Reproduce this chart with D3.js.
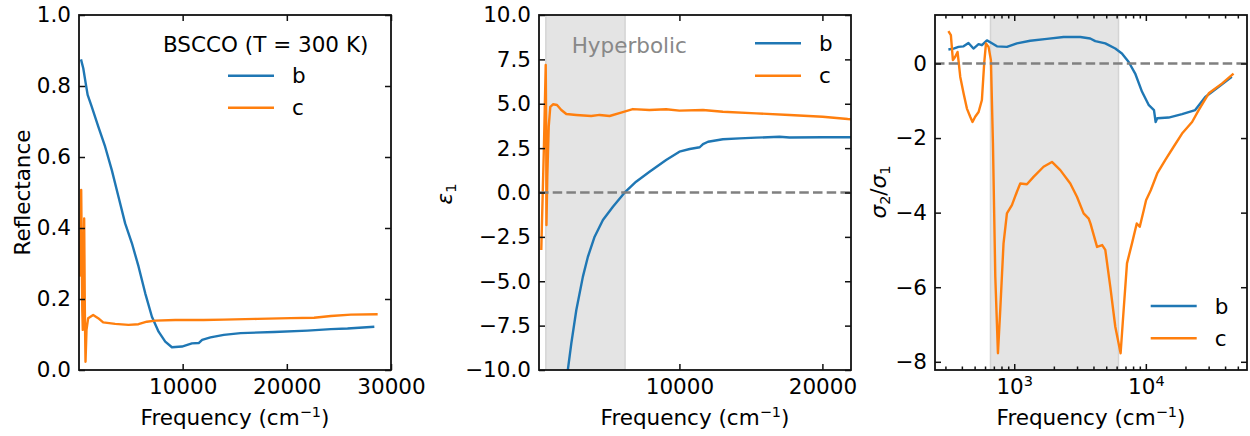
<!DOCTYPE html>
<html lang="en">
<head>
<meta charset="utf-8">
<script src="https://d3js.org/d3.v7.min.js"></script>
<style>
  body { margin: 0; background: #fff; }
  svg text { font-family: "DejaVu Sans", sans-serif; }
</style>
</head>
<body>
<div id="chart"></div>
<script>
// panel 1: reflectance, [frequency cm-1, R]
var reflB = [[240,0.875],[460,0.85],[690,0.808],[880,0.775],[1270,0.742],[1910,0.685],[2560,0.629],[3200,0.563],
  [3840,0.488],[4480,0.413],[5130,0.357],[5770,0.291],[6410,0.216],[7050,0.150],[7690,0.108],[8330,0.080],
  [8970,0.064],[9930,0.066],[10890,0.075],[11540,0.076],[11870,0.085],[12670,0.092],[13950,0.099],[15560,0.104],
  [18770,0.107],[21980,0.111],[24230,0.115],[25830,0.117],[28400,0.122]];
var reflC = [[125,0.263],[260,0.507],[365,0.169],[415,0.113],[545,0.427],[610,0.169],[675,0.023],[770,0.113],
  [930,0.146],[1410,0.155],[1890,0.146],[2370,0.134],[3520,0.130],[4800,0.127],[5760,0.129],[6560,0.136],
  [7360,0.139],[9290,0.141],[12010,0.141],[13950,0.142],[17160,0.144],[20370,0.146],[22620,0.147],[24230,0.152],
  [26150,0.156],[28720,0.157]];

// panel 2: eps1
var epsB = [[2180,-10.1],[2440,-8.5],[2790,-6.62],[3250,-4.74],[3600,-3.62],[4070,-2.49],[4650,-1.55],[5350,-0.80],
  [6160,-0.01],[6970,0.61],[7910,1.17],[9070,1.83],[10000,2.30],[10720,2.45],[11420,2.55],[11650,2.73],[12000,2.86],
  [13040,3.0],[14210,3.05],[15370,3.09],[17000,3.14],[17700,3.10],[20020,3.11],[21770,3.11],[22000,3.11]];
var epsC = [[340,-3.24],[410,-0.99],[530,2.77],[650,7.18],[690,2.77],[700,-1.83],[760,0.89],[860,3.71],[970,4.83],
  [1160,4.97],[1440,4.93],[1740,4.65],[2090,4.42],[2790,4.37],[3830,4.31],[4420,4.37],[5120,4.31],[5920,4.50],
  [6740,4.70],[7900,4.65],[9070,4.69],[10000,4.61],[11650,4.65],[13040,4.55],[15370,4.46],[17700,4.37],
  [20020,4.27],[21770,4.14],[22000,4.13]];

// panel 3: sigma2/sigma1 (log frequency)
var sigB = [[316,0.375],[346,0.40],[377,0.445],[412,0.46],[449,0.55],[490,0.40],[536,0.52],[568,0.49],[620,0.62],
  [677,0.54],[739,0.46],[880,0.445],[1048,0.54],[1323,0.61],[1771,0.66],[2370,0.71],[3176,0.71],[3780,0.67],
  [4130,0.60],[4920,0.54],[5860,0.40],[6580,0.27],[7410,0.04],[8300,-0.27],[9360,-0.76],[10540,-1.12],
  [11530,-1.25],[11870,-1.57],[12210,-1.47],[14900,-1.45],[18840,-1.36],[23710,-1.25],[28290,-0.90],
  [35600,-0.63],[45000,-0.36]];
var sigC = [[316,0.87],[330,0.76],[342,0.09],[356,0.18],[371,0.31],[389,-0.36],[412,-0.80],[437,-1.21],[463,-1.43],
  [482,-1.57],[505,-1.43],[536,-1.30],[568,-0.98],[591,0.0],[610,0.54],[638,0.445],[665,0.09],[689,-2.14],
  [718,-5.72],[752,-7.77],[783,-6.61],[829,-4.83],[880,-4.02],[960,-3.80],[1048,-3.44],[1111,-3.22],[1249,-3.24],
  [1402,-3.04],[1670,-2.77],[1934,-2.64],[2239,-2.86],[2666,-3.22],[3002,-3.58],[3366,-4.02],[3680,-4.16],
  [3793,-4.29],[4260,-4.92],[4660,-4.87],[4920,-5.0],[5370,-5.99],[5860,-7.06],[6430,-7.77],[6780,-6.61],
  [7190,-5.36],[7840,-4.83],[8530,-4.29],[8990,-4.38],[9650,-3.93],[10040,-3.67],[10900,-3.40],[12200,-2.95],
  [14030,-2.59],[16220,-2.24],[18840,-1.88],[22460,-1.57],[25200,-1.25],[30080,-0.80],[37840,-0.54],[46390,-0.27]];

var hyperbolic = [660, 6200];
var seriesNames = ["b", "c"];
var blue = "#1f77b4", orange = "#ff7f0e";
var fs = 21.5, lw = 2.4;

var svg = d3.select("#chart").append("svg")
  .attr("width", 1250).attr("height", 436);

function tickAxis(g, axis, tr, len, fmt, pad) {
  var a = g.append("g").attr("transform", tr)
    .call(axis.tickSizeInner(-len).tickSizeOuter(0).tickPadding(pad).tickFormat(fmt));
  a.select(".domain").remove();
  a.attr("font-size", fs).attr("font-family", "DejaVu Sans");
  a.selectAll("line").attr("stroke", "#111").attr("stroke-width", 1.5);
  a.selectAll("text").attr("fill", "#000");
  return a;
}

function panel(id, box, x, y, xTicks, xFmt, yTicks, yFmt) {
  var g = svg.append("g");
  g.append("clipPath").attr("id", id).append("rect")
    .attr("x", box.left).attr("y", box.top)
    .attr("width", box.right - box.left).attr("height", box.bottom - box.top);
  var plot = g.append("g").attr("clip-path", "url(#" + id + ")");
  g.plot = plot;
  g.box = box;
  g.drawAxes = function(minor) {
    g.xAxis = tickAxis(g, d3.axisBottom(x).tickValues(xTicks), "translate(0," + box.bottom + ")", 6, xFmt, 8.5);
    tickAxis(g, d3.axisTop(x).tickValues(xTicks), "translate(0," + box.top + ")", 6, "", 3);
    tickAxis(g, d3.axisLeft(y).tickValues(yTicks), "translate(" + box.left + ",0)", 6, yFmt, 8);
    tickAxis(g, d3.axisRight(y).tickValues(yTicks), "translate(" + box.right + ",0)", 6, "", 3);
    if (minor) {
      tickAxis(g, d3.axisBottom(x).tickValues(minor), "translate(0," + box.bottom + ")", 3.5, "", 3);
      tickAxis(g, d3.axisTop(x).tickValues(minor), "translate(0," + box.top + ")", 3.5, "", 3);
    }
    g.append("rect")
      .attr("x", box.left).attr("y", box.top)
      .attr("width", box.right - box.left).attr("height", box.bottom - box.top)
      .attr("fill", "none").attr("stroke", "#111").attr("stroke-width", 1.8);
    var xl = g.append("text")
      .attr("x", (box.left + box.right) / 2).attr("y", 425)
      .attr("text-anchor", "middle").attr("font-size", fs);
    xl.append("tspan").text("Frequency (cm");
    xl.append("tspan").attr("font-size", 14.5).attr("dy", -8).text("\u22121");
    xl.append("tspan").attr("dy", 8).text(")");
  };
  return g;
}

function curve(g, data, x, y, color) {
  g.plot.append("path")
    .datum(data)
    .attr("fill", "none").attr("stroke", color).attr("stroke-width", lw)
    .attr("stroke-linejoin", "round")
    .attr("d", d3.line().x(function(d) { return x(d[0]); }).y(function(d) { return y(d[1]); }));
}

function zeroLine(g, x, y) {
  var d = x.domain();
  g.plot.append("line")
    .attr("x1", x(d[0])).attr("x2", x(d[1]))
    .attr("y1", y(0)).attr("y2", y(0))
    .attr("stroke", "#808080").attr("stroke-width", 2.4).attr("stroke-dasharray", "9.5,4.2");
}

function shade(g, x) {
  var x0 = x(hyperbolic[0]), x1 = x(hyperbolic[1]);
  g.plot.append("rect")
    .attr("x", x0).attr("y", g.box.top).attr("width", x1 - x0).attr("height", g.box.bottom - g.box.top)
    .attr("fill", "#e4e4e4");
  [x0, x1].forEach(function(v) {
    g.plot.append("line").attr("x1", v).attr("x2", v).attr("y1", g.box.top).attr("y2", g.box.bottom)
      .attr("stroke", "#d4d4d4").attr("stroke-width", 1.5);
  });
}

function legend(g, x0, y0, gap) {
  [blue, orange].forEach(function(c, i) {
    var yy = y0 + i * gap;
    g.append("line").attr("x1", x0).attr("x2", x0 + 46).attr("y1", yy).attr("y2", yy)
      .attr("stroke", c).attr("stroke-width", lw);
    g.append("text").attr("x", x0 + 64).attr("y", yy + 7.5).attr("font-size", fs).text(seriesNames[i]);
  });
}

function yLabel(g, xpos, ypos, parts) {
  var t = g.append("text")
    .attr("transform", "translate(" + xpos + "," + ypos + ") rotate(-90)")
    .attr("text-anchor", "middle").attr("font-size", fs);
  parts.forEach(function(p) {
    var s = t.append("tspan").text(p.t);
    if (p.it) s.attr("font-style", "italic");
    if (p.sub) s.attr("font-size", 14.5).attr("dy", 4);
    if (p.up) s.attr("dy", -4);
  });
}

// ---- panel 1
var box1 = {left: 79, right: 391, top: 15, bottom: 370};
var x1 = d3.scaleLinear().domain([50, 30000]).range([box1.left, box1.right]);
var y1 = d3.scaleLinear().domain([0, 1]).range([box1.bottom, box1.top]);
var p1 = panel("clip1", box1, x1, y1, [10000, 20000, 30000], d3.format("d"),
  [0, 0.2, 0.4, 0.6, 0.8, 1.0], d3.format(".1f"));
curve(p1, reflB, x1, y1, blue);
curve(p1, reflC, x1, y1, orange);
p1.drawAxes();
p1.append("text").attr("x", 163).attr("y", 52).attr("font-size", fs).text("BSCCO (T = 300 K)");
legend(p1, 228, 75.7, 32);
yLabel(p1, 30, 192.5, [{t: "Reflectance"}]);

// ---- panel 2
var box2 = {left: 539, right: 851, top: 15, bottom: 370};
var x2 = d3.scaleLinear().domain([180, 22000]).range([box2.left, box2.right]);
var y2 = d3.scaleLinear().domain([-10, 10]).range([box2.bottom, box2.top]);
var p2 = panel("clip2", box2, x2, y2, [10000, 20000], d3.format("d"),
  d3.range(-10, 10.1, 2.5), d3.format(".1f"));
shade(p2, x2);
curve(p2, epsB, x2, y2, blue);
curve(p2, epsC, x2, y2, orange);
zeroLine(p2, x2, y2);
p2.drawAxes();
p2.append("text").attr("x", 571.7).attr("y", 53.3).attr("font-size", fs).attr("fill", "#888").text("Hyperbolic");
legend(p2, 755, 43.3, 32.4);
yLabel(p2, 452, 194, [{t: "\u03b5", it: true}, {t: "1", sub: true}]);

// ---- panel 3
var box3 = {left: 935, right: 1247, top: 15, bottom: 370};
var x3 = d3.scaleLog().domain([250, 58700]).range([box3.left, box3.right]);
var y3 = d3.scaleLinear().domain([-8.22, 1.3]).range([box3.bottom, box3.top]);
var majors = [1000, 10000];
var minors = x3.ticks().filter(function(v) { return majors.indexOf(v) < 0; });
var p3 = panel("clip3", box3, x3, y3, majors, function(d) { return d; },
  [0, -2, -4, -6, -8], d3.format("d"));
shade(p3, x3);
curve(p3, sigB, x3, y3, blue);
curve(p3, sigC, x3, y3, orange);
zeroLine(p3, x3, y3);
p3.drawAxes(minors);
// power-of-ten labels
p3.xAxis.selectAll(".tick text").each(function(d) {
  var t = d3.select(this);
  var e = Math.round(Math.log10(d));
  t.text("");
  t.append("tspan").text("10");
  t.append("tspan").attr("font-size", 14.5).attr("dy", -8).text(e);
});
legend(p3, 1150.7, 306, 32.3);
yLabel(p3, 886, 192, [{t: "\u03c3", it: true}, {t: "2", sub: true}, {t: "/", up: true}, {t: "\u03c3", it: true}, {t: "1", sub: true}]);
</script>
</body>
</html>
